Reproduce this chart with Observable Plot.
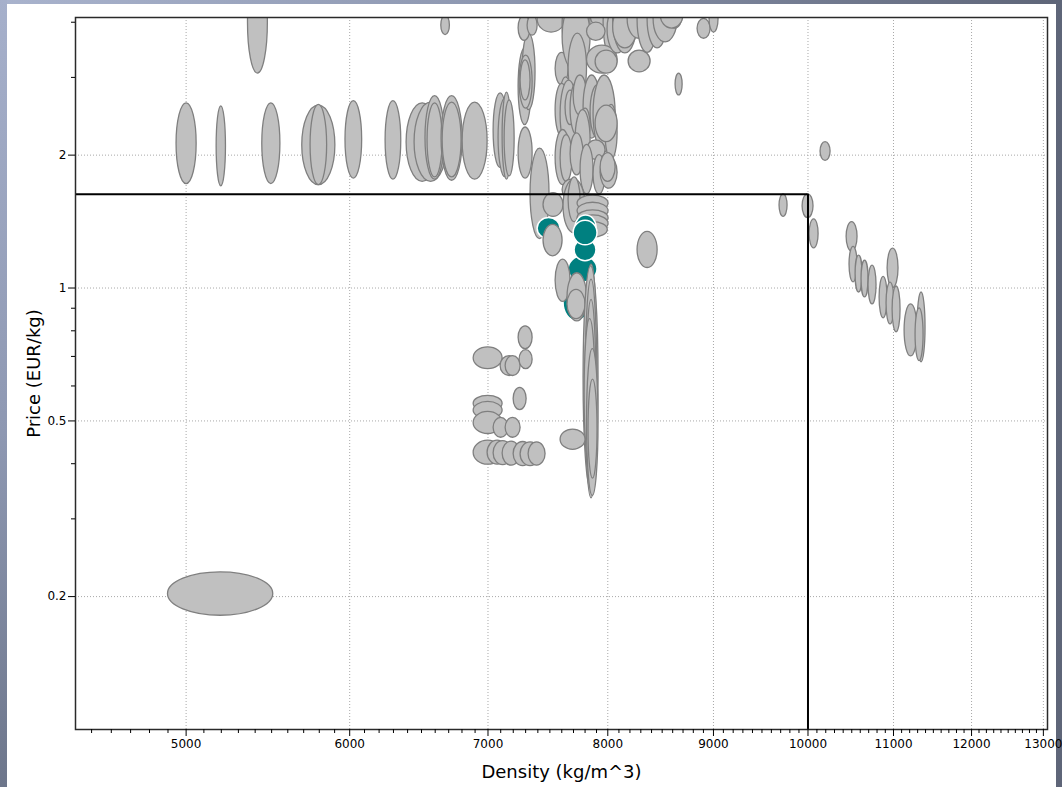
<!DOCTYPE html>
<html>
<head>
<meta charset="utf-8">
<script src="https://cdn.jsdelivr.net/npm/d3@7"></script>
<script src="https://cdn.jsdelivr.net/npm/@observablehq/plot@0.6"></script>
<style>
  html, body { margin: 0; padding: 0; width: 1062px; height: 787px; overflow: hidden; }
  body { position: relative; background: linear-gradient(90deg, #a9b3cd 0%, #8e98b1 45%, #5e6578 100%); font-family: "DejaVu Sans", sans-serif; }
  #edge { position: absolute; left: 0; top: 0; width: 7px; height: 787px; background: linear-gradient(180deg, #a6b0cb 0%, #8e98b2 55%, #6d768b 100%); }
  #panel { position: absolute; left: 7px; top: 4px; width: 1049px; height: 783px; background: #ffffff; }
  #chart { position: absolute; left: 0; top: 0; }
</style>
</head>
<body>
<div id="edge"></div>
<div id="panel"></div>
<div id="chart"></div>
<script>
// Each row is one material: [density low, density high, price low, price high]
// (kg/m^3 and EUR/kg). Every range is drawn as an ellipse inscribed in its box.

const upperRow = [
  [4947, 5059, 1.72, 2.62], [5173, 5227, 1.70, 2.58], [5443, 5554, 1.72, 2.62],
  [5691, 5905, 1.71, 2.59], [5744, 5851, 1.71, 2.60], [5972, 6084, 1.77, 2.65],
  [6245, 6355, 1.76, 2.65], [6393, 6626, 1.74, 2.62], [6450, 6692, 1.74, 2.63],
  [6529, 6670, 1.76, 2.72], [6544, 6655, 1.78, 2.62], [6647, 6805, 1.75, 2.72],
  [6655, 6797, 1.78, 2.63], [6805, 6997, 1.76, 2.63],
  [5357, 5477, 3.06, 5.20], [6645, 6709, 3.74, 4.14]
];

const near7000 = [
  [7044, 7155, 1.87, 2.76], [7083, 7195, 1.78, 2.69], [7115, 7185, 1.76, 2.77],
  [7131, 7211, 1.79, 2.66], [7243, 7349, 2.34, 3.49], [7275, 7381, 2.53, 3.77],
  [7251, 7357, 2.55, 3.36], [7259, 7340, 2.66, 3.28], [7243, 7357, 1.77, 2.31],
  [7243, 7340, 3.63, 4.14], [7316, 7398, 3.73, 4.14]
];

const steelTop = [
  [7398, 7632, 3.79, 4.36], [7607, 7761, 3.36, 4.60], [7735, 7848, 3.49, 4.50],
  [7548, 7658, 2.88, 3.41], [7573, 7701, 2.00, 3.00], [7607, 7848, 3.08, 4.47],
  [7658, 7817, 2.63, 3.77], [7848, 8088, 3.87, 4.40], [7963, 8115, 3.31, 4.80],
  [7817, 7980, 3.63, 3.99], [7817, 8088, 3.06, 3.54], [7892, 8088, 3.06, 3.45],
  [7998, 8179, 3.40, 4.36], [8048, 8270, 3.40, 4.80], [8048, 8270, 3.49, 4.36],
  [8179, 8391, 3.67, 4.50], [8188, 8391, 3.08, 3.45], [8270, 8457, 3.41, 4.80],
  [8363, 8551, 3.49, 4.70], [8419, 8647, 3.60, 4.60], [8551, 8696, 3.87, 4.40],
  [8485, 8705, 3.87, 4.47], [8842, 8971, 3.67, 4.07], [8961, 9051, 3.79, 4.36],
  [8628, 8696, 2.73, 3.06]
];

const steelMiddle = [
  [7548, 7660, 2.20, 2.90], [7590, 7735, 2.07, 2.95], [7632, 7718, 2.34, 2.80],
  [7675, 7787, 2.22, 2.92], [7701, 7817, 2.46, 3.03], [7787, 7936, 2.18, 3.03],
  [7848, 7980, 2.18, 2.88], [7874, 8070, 2.03, 3.03], [7980, 8088, 1.95, 2.60],
  [7761, 7848, 2.14, 2.55], [7892, 8088, 2.14, 2.59], [7718, 7848, 1.85, 2.53],
  [7817, 7980, 1.95, 2.16], [7548, 7675, 1.71, 2.28], [7590, 7692, 1.74, 2.22],
  [7675, 7787, 1.80, 2.24], [7761, 7874, 1.63, 2.11], [7874, 7980, 1.63, 2.00],
  [7936, 8088, 1.68, 1.98], [7936, 8070, 1.74, 2.02], [7340, 7497, 1.29, 2.07],
  [7447, 7615, 1.45, 1.64], [7607, 7761, 1.58, 1.76], [7615, 7804, 1.33, 1.76],
  [7658, 7761, 1.41, 1.78], [7735, 8007, 1.49, 1.62], [7735, 8007, 1.43, 1.56],
  [7735, 8007, 1.38, 1.50], [7735, 8007, 1.34, 1.46], [7735, 8000, 1.30, 1.41]
];

const lowPrice = [
  [7243, 7357, 0.727, 0.819], [6889, 7115, 0.655, 0.734], [7099, 7243, 0.632, 0.701],
  [7139, 7259, 0.632, 0.701], [7251, 7357, 0.655, 0.723], [7203, 7308, 0.529, 0.594],
  [6889, 7115, 0.524, 0.570], [6889, 7115, 0.505, 0.552], [6889, 7115, 0.467, 0.524],
  [7044, 7163, 0.458, 0.508], [7139, 7259, 0.458, 0.508], [6889, 7115, 0.398, 0.451],
  [6997, 7155, 0.398, 0.451], [7044, 7195, 0.397, 0.450], [7115, 7259, 0.396, 0.449],
  [7203, 7357, 0.395, 0.448], [7259, 7423, 0.395, 0.447], [7324, 7464, 0.396, 0.447]
];

const highDensity = [
  [8270, 8457, 1.11, 1.34], [10141, 10255, 1.94, 2.14], [9688, 9775, 1.45, 1.63],
  [9940, 10062, 1.44, 1.63], [10018, 10119, 1.23, 1.43], [10440, 10568, 1.21, 1.41],
  [10474, 10568, 1.03, 1.24], [10545, 10627, 0.977, 1.184], [10615, 10698, 0.952, 1.153],
  [10698, 10794, 0.918, 1.124], [10831, 10928, 0.854, 1.06], [10928, 11062, 1.00, 1.228],
  [10915, 11013, 0.827, 1.029], [10989, 11087, 0.794, 1.008], [11137, 11299, 0.70, 0.918],
  [11299, 11400, 0.679, 0.977], [11274, 11375, 0.683, 0.899]
];

const lowestPrice = [[4900, 5510, 0.181, 0.227]];

// highlighted materials
const selected = [
  [7615, 7848, 0.84, 1.02], [7658, 7909, 1.03, 1.18], [7398, 7590, 1.29, 1.44],
  [7718, 7900, 1.29, 1.46], [7709, 7900, 1.15, 1.29], [7701, 7909, 1.25, 1.42]
];

// grey ranges that sit in front of the highlighted ones
const frontGrey = [
  [7447, 7607, 1.18, 1.39], [7548, 7675, 0.93, 1.16], [7649, 7817, 0.84, 1.08],
  [7649, 7804, 0.85, 0.99], [7813, 7900, 0.56, 1.13], [7787, 7918, 0.35, 1.12],
  [7804, 7909, 0.334, 1.045], [7813, 7900, 0.36, 0.94], [7796, 7892, 0.39, 0.85],
  [7817, 7918, 0.338, 0.727], [7830, 7909, 0.37, 0.62], [7590, 7804, 0.43, 0.478]
];

// selection limits
const densityLimit = 10000;
const priceLimit = 1.63;

const xDomain = [4420, 13060];
const yDomain = [0.1, 4.1];
const xTicks = [5000, 6000, 7000, 8000, 9000, 10000, 11000, 12000, 13000];
const yTicks = [0.2, 0.5, 1, 2];
const yMinor = [0.3, 0.4, 0.6, 0.7, 0.8, 0.9, 3, 4];
const xMinor = d3.range(4500, 13001, 100).filter(v => v % 1000 !== 0);

const xTitle = "Density (kg/m^3)";
const yTitle = "Price (EUR/kg)";

const toRows = rows => rows.map(([d0, d1, p0, p1]) => ({d0, d1, p0, p1}));
const ellipses = (rows, fill, stroke, strokeWidth) =>
  Plot.rect(toRows(rows), {
    x1: "d0", x2: "d1", y1: "p0", y2: "p1",
    rx: 2000, ry: 2000,
    fill, stroke, strokeWidth, clip: true
  });

const grey = "#c0c0c0", greyEdge = "#7f7f7f", teal = "#008080";

const chart = Plot.plot({
  width: 1062,
  height: 787,
  marginLeft: 75,
  marginTop: 17,
  marginRight: 15,
  marginBottom: 58,
  style: {background: "transparent", fontFamily: "DejaVu Sans", fontSize: "12px", color: "#000"},
  x: {type: "log", domain: xDomain},
  y: {type: "log", domain: yDomain},
  marks: [
    Plot.gridX({ticks: xTicks, stroke: "#a8a8a8", strokeOpacity: 1, strokeDasharray: "1,2"}),
    Plot.gridY({ticks: yTicks, stroke: "#a8a8a8", strokeOpacity: 1, strokeDasharray: "1,2"}),
    ellipses(upperRow, grey, greyEdge, 1.3),
    ellipses(near7000, grey, greyEdge, 1.3),
    ellipses(steelTop, grey, greyEdge, 1.3),
    ellipses(steelMiddle, grey, greyEdge, 1.3),
    ellipses(lowPrice, grey, greyEdge, 1.3),
    ellipses(highDensity, grey, greyEdge, 1.3),
    ellipses(lowestPrice, grey, greyEdge, 1.3),
    ellipses(selected, teal, "#ffffff", 1.5),
    ellipses(frontGrey, grey, greyEdge, 1.3),
    Plot.ruleY([priceLimit], {x1: xDomain[0], x2: densityLimit, stroke: "#000", strokeWidth: 2}),
    Plot.ruleX([densityLimit], {y1: yDomain[0], y2: priceLimit, stroke: "#000", strokeWidth: 2}),
    Plot.frame({stroke: "#2a2a2a", strokeWidth: 1.5}),
    Plot.axisX({ticks: xTicks, tickSize: 7, tickPadding: 3, fontSize: 12, tickFormat: d => String(d), label: null}),
    Plot.axisX({ticks: xMinor, tickSize: 4, tickFormat: () => "", label: null}),
    Plot.axisY({ticks: yTicks, tickSize: 7, tickPadding: 2, fontSize: 12, tickFormat: d => String(d), label: null}),
    Plot.axisY({ticks: yMinor, tickSize: 4, tickFormat: () => "", label: null}),
    Plot.text([xTitle], {text: d => d, frameAnchor: "bottom", lineAnchor: "middle", textAnchor: "middle", dy: 43, fontSize: 18, fill: "#000"}),
    Plot.text([yTitle], {text: d => d, frameAnchor: "left", lineAnchor: "middle", textAnchor: "middle", dx: -41, rotate: -90, fontSize: 18, fill: "#000"})
  ]
});

document.getElementById("chart").appendChild(chart);
</script>
</body>
</html>
